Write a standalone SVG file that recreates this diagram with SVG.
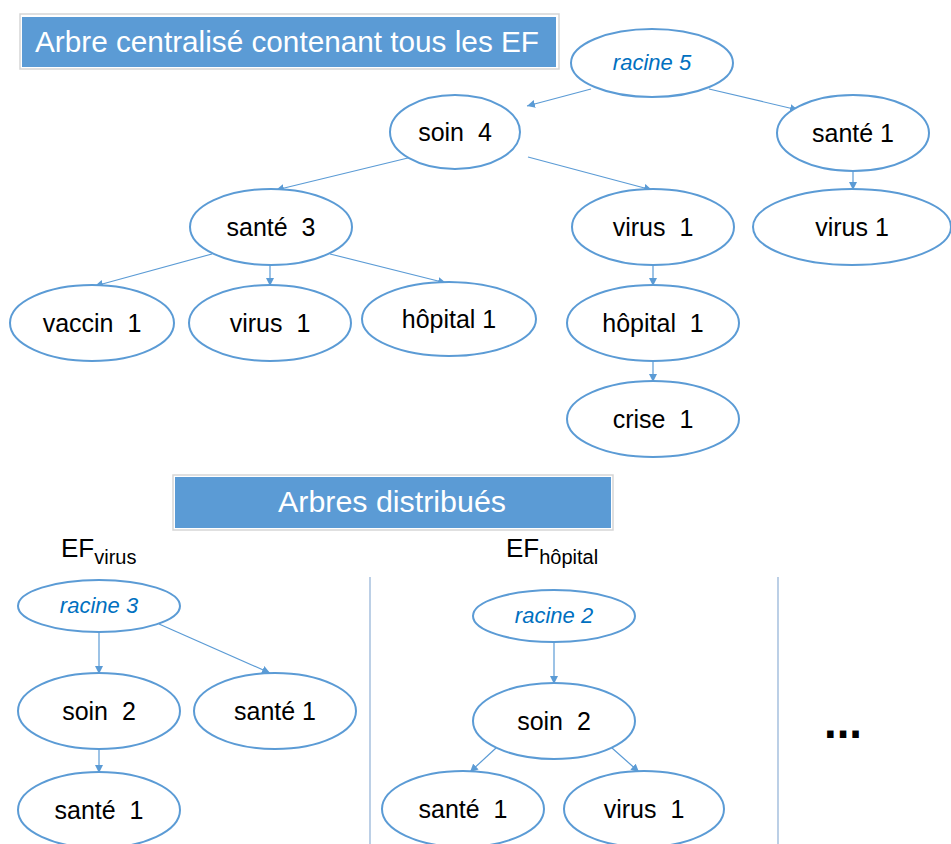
<svg xmlns="http://www.w3.org/2000/svg" width="951" height="844" viewBox="0 0 951 844">
<style>
.node ellipse{fill:#fff;stroke:#5b9bd5;stroke-width:2}
.lbl{font-family:"Liberation Sans",Arial,sans-serif;font-size:25px;fill:#000;text-anchor:middle;white-space:pre}
.root{font-family:"Liberation Sans",Arial,sans-serif;font-size:22px;font-style:italic;fill:#0070c0;text-anchor:middle}
.title{font-family:"Liberation Sans",Arial,sans-serif;font-size:29px;fill:#fff}
.ef{font-family:"Liberation Sans",Arial,sans-serif;font-size:26px;fill:#000}
.conn line{stroke:#5b9bd5;stroke-width:1.2;marker-end:url(#arr)}
.sep{stroke:#8fb0d6;stroke-width:1.2}
</style>
<defs>
<marker id="arr" markerUnits="userSpaceOnUse" markerWidth="9" markerHeight="8" refX="8" refY="4" orient="auto">
<path d="M0,0 L8,4 L0,8 z" fill="#5b9bd5"/>
</marker>
</defs>
<rect width="951" height="844" fill="#fff"/>

<g id="title1">
<rect x="20" y="14" width="539" height="55" fill="none" stroke="#d6d6d6" stroke-width="1.5"/>
<rect x="22" y="17" width="534" height="50" fill="#5b9bd5"/>
<text class="title" x="35" y="52" textLength="504" lengthAdjust="spacingAndGlyphs">Arbre centralisé contenant tous les EF</text>
</g>

<g id="title2">
<rect x="173" y="475" width="440" height="55" fill="none" stroke="#d6d6d6" stroke-width="1.5"/>
<rect x="175" y="477" width="436" height="51" fill="#5b9bd5"/>
<text class="title" x="392" y="512" text-anchor="middle" textLength="228" lengthAdjust="spacingAndGlyphs">Arbres distribués</text>
</g>

<g id="separators">
<line class="sep" x1="370" y1="577" x2="370" y2="844"/>
<line class="sep" x1="778" y1="577" x2="778" y2="844"/>
</g>

<g id="connectors" class="conn">
<line x1="591" y1="89" x2="527" y2="106"/>
<line x1="709" y1="89" x2="798" y2="110"/>
<line x1="412" y1="157" x2="276" y2="190"/>
<line x1="528" y1="157" x2="652" y2="190"/>
<line x1="853" y1="171" x2="853" y2="190"/>
<line x1="212" y1="254" x2="95" y2="286"/>
<line x1="270" y1="265" x2="270" y2="286"/>
<line x1="330" y1="254" x2="446" y2="283"/>
<line x1="653" y1="265" x2="653" y2="286"/>
<line x1="653" y1="361" x2="653" y2="382"/>
<line x1="99" y1="632" x2="99" y2="674"/>
<line x1="159" y1="624" x2="270" y2="673"/>
<line x1="99" y1="749" x2="99" y2="773"/>
<line x1="554" y1="642" x2="554" y2="684"/>
<line x1="496" y1="748" x2="470" y2="772"/>
<line x1="612" y1="748" x2="639" y2="772"/>
</g>

<g id="racine5" class="node"><ellipse cx="652" cy="63" rx="81" ry="34"/><text class="root" x="652" y="70">racine 5</text></g>
<g id="soin4" class="node"><ellipse cx="455" cy="132" rx="65" ry="37"/><text class="lbl" x="455" y="141">soin  4</text></g>
<g id="sante1a" class="node"><ellipse cx="853" cy="133" rx="76" ry="38"/><text class="lbl" x="853" y="142">santé 1</text></g>
<g id="virus1a" class="node"><ellipse cx="852" cy="227" rx="99" ry="38"/><text class="lbl" x="852" y="236">virus 1</text></g>
<g id="sante3" class="node"><ellipse cx="271" cy="227" rx="81" ry="38"/><text class="lbl" x="271" y="236">santé  3</text></g>
<g id="virus1b" class="node"><ellipse cx="653" cy="227" rx="81" ry="38"/><text class="lbl" x="653" y="236">virus  1</text></g>
<g id="vaccin1" class="node"><ellipse cx="92" cy="323" rx="82" ry="38"/><text class="lbl" x="92" y="332">vaccin  1</text></g>
<g id="virus1c" class="node"><ellipse cx="270" cy="323" rx="81" ry="38"/><text class="lbl" x="270" y="332">virus  1</text></g>
<g id="hopital1a" class="node"><ellipse cx="449" cy="319" rx="87" ry="37"/><text class="lbl" x="449" y="328">hôpital 1</text></g>
<g id="hopital1b" class="node"><ellipse cx="653" cy="323" rx="86" ry="38"/><text class="lbl" x="653" y="332">hôpital  1</text></g>
<g id="crise1" class="node"><ellipse cx="653" cy="419" rx="86" ry="38"/><text class="lbl" x="653" y="428">crise  1</text></g>

<g id="ef-virus"><text class="ef" x="61" y="557">EF<tspan font-size="20" dy="7">virus</tspan></text></g>
<g id="ef-hopital"><text class="ef" x="506" y="557">EF<tspan font-size="20" dy="7">hôpital</tspan></text></g>

<g id="racine3" class="node"><ellipse cx="99" cy="606" rx="81" ry="26"/><text class="root" x="99" y="613">racine 3</text></g>
<g id="soin2a" class="node"><ellipse cx="99" cy="711" rx="81" ry="38"/><text class="lbl" x="99" y="720">soin  2</text></g>
<g id="sante1b" class="node"><ellipse cx="275" cy="711" rx="81" ry="38"/><text class="lbl" x="275" y="720">santé 1</text></g>
<g id="sante1c" class="node"><ellipse cx="99" cy="810" rx="81" ry="38"/><text class="lbl" x="99" y="819">santé  1</text></g>

<g id="racine2" class="node"><ellipse cx="554" cy="616" rx="81" ry="26"/><text class="root" x="554" y="623">racine 2</text></g>
<g id="soin2b" class="node"><ellipse cx="554" cy="721" rx="81" ry="38"/><text class="lbl" x="554" y="730">soin  2</text></g>
<g id="sante1d" class="node"><ellipse cx="463" cy="809" rx="81" ry="38"/><text class="lbl" x="463" y="818">santé  1</text></g>
<g id="virus1d" class="node"><ellipse cx="644" cy="809" rx="80" ry="38"/><text class="lbl" x="644" y="818">virus  1</text></g>

<g id="ellipsis"><text x="843" y="738" font-family="Liberation Sans,Arial,sans-serif" font-size="50" font-weight="bold" text-anchor="middle" fill="#000" textLength="38" lengthAdjust="spacingAndGlyphs">...</text></g>
</svg>
